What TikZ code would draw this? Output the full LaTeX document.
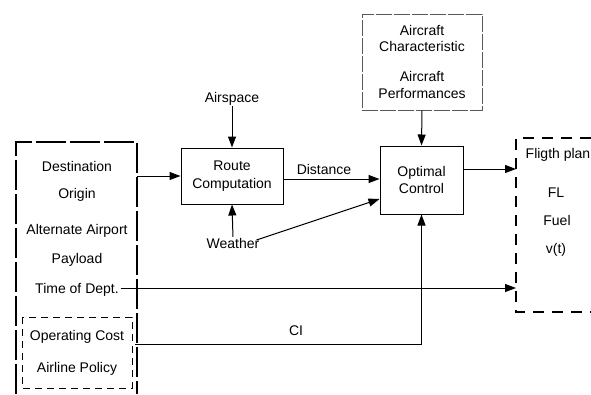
\documentclass[tikz,border=0pt]{standalone}
\usepackage{fontspec}
\setmainfont{Liberation Sans}
\usetikzlibrary{arrows.meta,calc}
\begin{document}
\begin{tikzpicture}[x=1pt,y=-1pt,
  txt/.style={inner sep=0pt, font=\fontsize{14}{17.5}\selectfont, text height=10pt, text depth=0pt},
  mtxt/.style={inner sep=0pt, align=center, font=\fontsize{14}{16.5}\selectfont},
  block/.style={draw, line width=1pt, inner sep=0pt, align=center, font=\fontsize{14}{17.5}\selectfont},
  arr/.style={line width=1pt, -{Triangle[length=11pt,width=8pt]}},
  ln/.style={line width=1pt},
  bigdash/.style={line width=2.5pt, dash pattern=on 30pt off 4pt},
  smalldash/.style={line width=1pt, dash pattern=on 7pt off 5pt},
  meddash/.style={line width=1.5pt, dash pattern=on 11pt off 8pt},
  acdash/.style={draw, line width=1pt, draw=black!65, dash pattern=on 16pt off 2pt, inner sep=0pt}
]
\useasboundingbox (0,0) rectangle (591,394);

% left source box
\draw[bigdash] (16,394) -- (16,142) -- (137,142) -- (137,394);
\draw[smalldash] (22,317) rectangle (132,388);
\node[txt] (dest) at (77,166) {Destination};
\node[txt] (orig) at (77,193) {Origin};
\node[txt] (alt)  at (77,229) {Alternate Airport};
\node[txt] (pay)  at (77,258) {Payload};
\node[txt] (tod)  at (77,288) {Time of Dept.};
\node[txt] (opc)  at (77,335) {Operating Cost};
\node[txt] (pol)  at (77,367) {Airline Policy};
\coordinate (srcE) at (137,176);
\coordinate (ciS) at (135,344);

% route computation
\node[block, minimum width=102pt, minimum height=56pt] (route) at (232,176) {Route\\Computation};
\node[txt] (airspace) at (232,97) {Airspace};
\node[txt] (weather) at (233,243) {Weather};

% optimal control
\node[block, minimum width=83pt, minimum height=68pt] (opt) at (421.5,180) {Optimal\\Control};

% aircraft box
\node[acdash, minimum width=120pt, minimum height=96pt] (acbox) at (422,62) {};
\node[mtxt] (ac1) at (422,38.5) {Aircraft\\Characteristic};
\node[mtxt] (ac2) at (422,85) {Aircraft\\Performances};

% flight plan box
\draw[meddash] (591,138) -- (516,138) -- (516,312) -- (591,312);
\node[txt] (fp)   at (558,153) {Fligth plan};
\node[txt] (fl)   at (556,192) {FL};
\node[txt] (fuel) at (557,220) {Fuel};
\node[txt] (vt)   at (556,248) {v(t)};
\coordinate (fpA) at (516,169);
\coordinate (fpB) at (516,288);

% labels
\node[txt] (dist) at (324,169) {Distance};
\node[txt] (ci) at (296,330) {CI};

% connectors
\draw[arr] (srcE) -- (route.west);
\draw[arr, shorten <=4pt] (airspace.south) -- (route.north);
\draw[arr, shorten <=1pt] (weather.north) -- (route.south);
\draw[arr] ([xshift=-3pt,yshift=3pt]weather.east) -- ([yshift=-19pt]opt.west);
\draw[arr] ([yshift=-3pt]route.east) -- ([yshift=-3pt]route.east -| opt.west);
\draw[arr] (acbox.south) -- (opt.north);
\draw[arr] (opt.east |- fpA) -- (fpA);
\draw[arr] ([xshift=2pt]tod.east) -- (tod.east -| fpB);
\draw[arr] (ciS) -| (opt.south);
\end{tikzpicture}
\end{document}
